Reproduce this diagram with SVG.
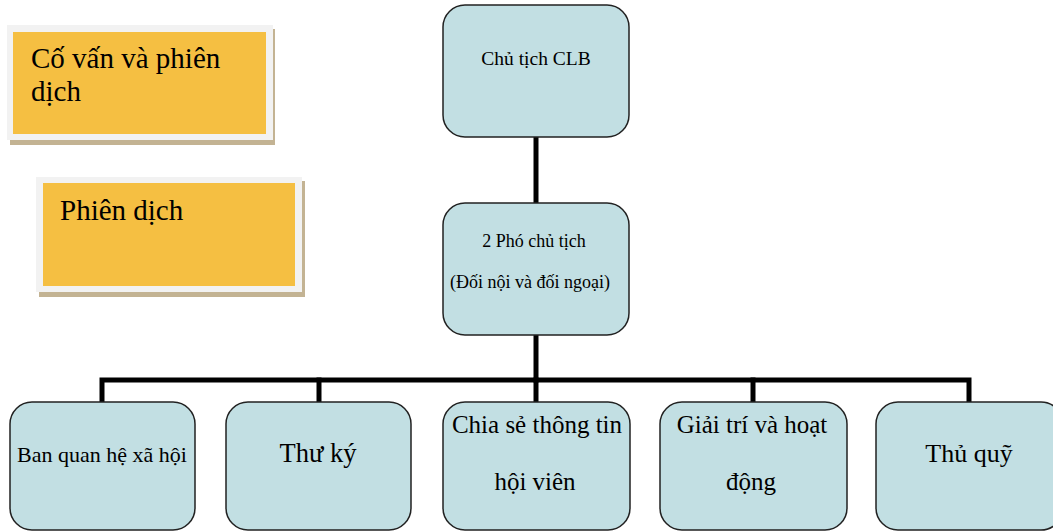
<svg xmlns="http://www.w3.org/2000/svg" width="1053" height="531" viewBox="0 0 1053 531">
<style>
.t{font-family:"Liberation Serif","Times New Roman",serif;fill:#000}
.node{fill:#C2DFE3;stroke:#222;stroke-width:1.5}
.frame{fill:#F2F2F2}
.shadow{fill:#C3B393}
.note{fill:#F5BF42}
.conn{stroke:#000;stroke-width:5;fill:none;stroke-linecap:square}
</style>
<rect width="1053" height="531" fill="#fff"/>
<g id="note-covan">
<rect class="shadow" x="10" y="29" width="265" height="116"/>
<rect class="frame" x="7" y="25" width="266" height="115"/>
<rect class="note" x="13" y="32" width="253" height="102"/>
<text class="t" x="31" y="68" font-size="29">Cố vấn và phiên</text>
<text class="t" x="31" y="101" font-size="29">dịch</text>
</g>
<g id="note-phiendich">
<rect class="shadow" x="39" y="181" width="266" height="116"/>
<rect class="frame" x="36" y="177" width="266" height="115"/>
<rect class="note" x="43" y="183" width="252" height="103"/>
<text class="t" x="60" y="220" font-size="29">Phiên dịch</text>
</g>
<g id="connectors">
<line class="conn" x1="536" y1="137" x2="536" y2="203"/>
<line class="conn" x1="536" y1="335" x2="536" y2="380"/>
<polyline class="conn" points="102,402 102,380 969,380 969,402"/>
<line class="conn" x1="319" y1="380" x2="319" y2="402"/>
<line class="conn" x1="536" y1="380" x2="536" y2="402"/>
<line class="conn" x1="753" y1="380" x2="753" y2="402"/>
</g>
<g id="chutich">
<rect class="node" x="443" y="5" width="186" height="132" rx="22"/>
<text class="t" x="536" y="65" font-size="19.5" text-anchor="middle">Chủ tịch CLB</text>
</g>
<g id="phochutich">
<rect class="node" x="443" y="203" width="186" height="132" rx="22"/>
<text class="t" x="534" y="247" font-size="18" text-anchor="middle">2 Phó chủ tịch</text>
<text class="t" x="530" y="288" font-size="18" text-anchor="middle">(Đối nội và đối ngoại)</text>
</g>
<g id="banquanhe">
<rect class="node" x="10" y="402" width="185" height="128" rx="22"/>
<text class="t" x="102" y="462" font-size="22" text-anchor="middle">Ban quan hệ xã hội</text>
</g>
<g id="thuky">
<rect class="node" x="226" y="402" width="185" height="128" rx="22"/>
<text class="t" x="318" y="462" font-size="26.5" text-anchor="middle">Thư ký</text>
</g>
<g id="chiase">
<rect class="node" x="443" y="402" width="187" height="128" rx="22"/>
<text class="t" x="537" y="433" font-size="25" text-anchor="middle">Chia sẻ thông tin</text>
<text class="t" x="535" y="490" font-size="25" text-anchor="middle">hội viên</text>
</g>
<g id="giaitri">
<rect class="node" x="660" y="402" width="187" height="128" rx="22"/>
<text class="t" x="752" y="433" font-size="25" text-anchor="middle">Giải trí và hoạt</text>
<text class="t" x="751" y="490" font-size="25" text-anchor="middle">động</text>
</g>
<g id="thuquy">
<rect class="node" x="876" y="402" width="187" height="128" rx="22"/>
<text class="t" x="969" y="462" font-size="26" text-anchor="middle">Thủ quỹ</text>
</g>
</svg>
